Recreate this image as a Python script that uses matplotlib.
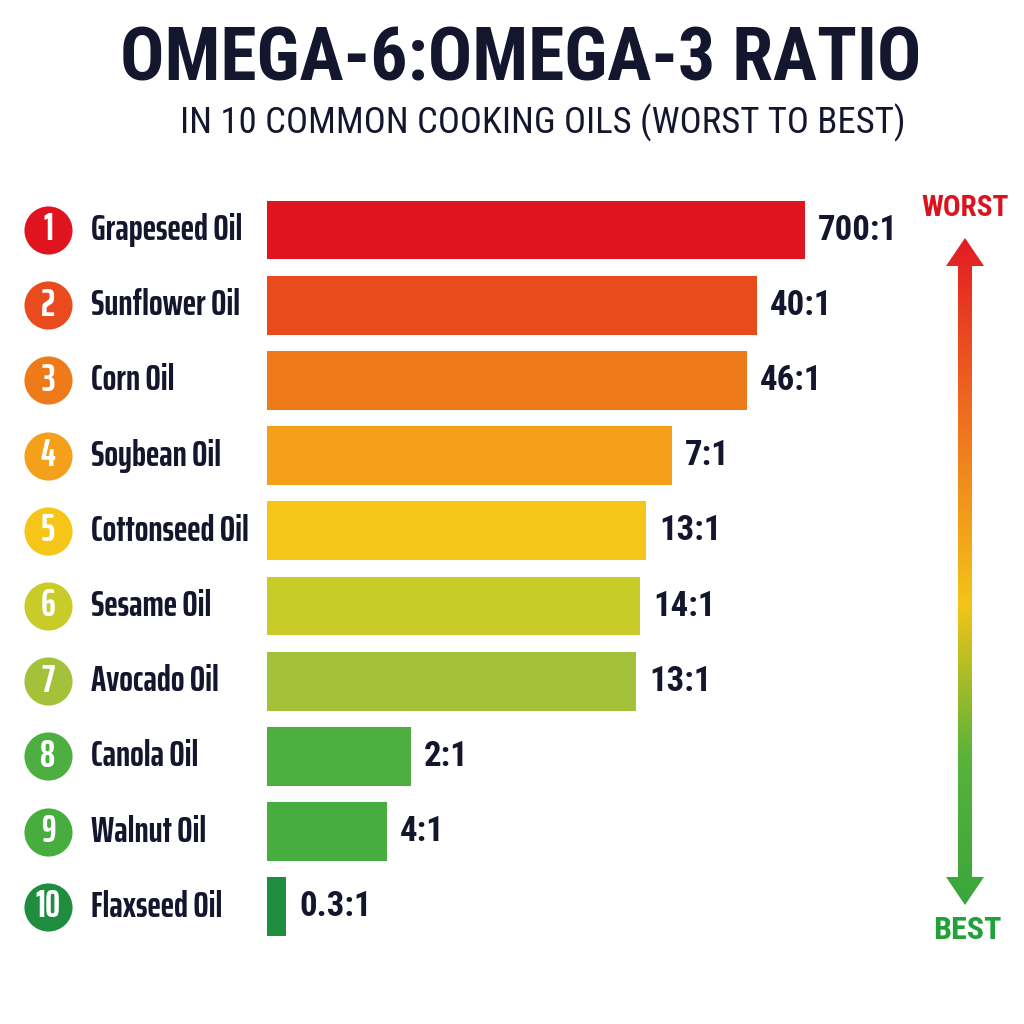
import matplotlib
matplotlib.use("Agg")
import matplotlib.pyplot as plt
import numpy as np
from matplotlib.colors import LinearSegmentedColormap
from matplotlib.patches import Polygon

# datos
aceites = ['Grapeseed Oil', 'Sunflower Oil', 'Corn Oil', 'Soybean Oil', 'Cottonseed Oil',
           'Sesame Oil', 'Avocado Oil', 'Canola Oil', 'Walnut Oil', 'Flaxseed Oil']
ratios = ['700:1', '40:1', '46:1', '7:1', '13:1', '14:1', '13:1', '2:1', '4:1', '0.3:1']
# largo de barra tal como se ve en el grafico (no es proporcional al ratio)
largos = [538, 490, 480, 405, 379, 373, 369, 144, 120, 19]
colores = ['#E0141E', '#E94B1C', '#EE7A1A', '#F5A01A', '#F5C518',
           '#C9CC28', '#A3C23A', '#4CAF3F', '#46AD3E', '#1E8E3E']

NAVY = '#14162E'
FAM = ['Roboto Condensed', 'DejaVu Sans']
ANGOSTA = ['Saira ExtraCondensed', 'Roboto Condensed', 'DejaVu Sans']

fig = plt.figure(figsize=(10.24, 10.24), dpi=100)
fig.patch.set_facecolor('white')

ax = fig.add_axes([0, 0, 1, 1])
ax.set_xlim(-267, 757)
paso = 75.2
ax.set_ylim((1024 - 230) / paso, -230 / paso)
ax.axis('off')

y = np.arange(len(aceites))
ax.barh(y, largos, height=0.78, color=colores, left=0)

for i in range(len(aceites)):
    ax.scatter(-219, y[i], s=1200, color=colores[i], zorder=3, linewidths=0)
    ax.text(-219, y[i], str(i + 1), color='white', fontsize=27, fontweight='bold',
            ha='center', va='center', family=ANGOSTA, zorder=4)
    ax.text(-176, y[i], aceites[i], color=NAVY, fontsize=26, fontweight='bold',
            ha='left', va='center', family=ANGOSTA)
    ax.text(largos[i] + 13, y[i], ratios[i], color=NAVY, fontsize=25, fontweight='bold',
            ha='left', va='center', family=FAM)

# titulos
fig.text(0.508, 0.941, 'OMEGA-6:OMEGA-3 RATIO', color=NAVY, fontsize=53,
         fontweight='heavy', ha='center', va='center', family=FAM)
fig.text(0.530, 0.880, 'IN 10 COMMON COOKING OILS (WORST TO BEST)', color=NAVY,
         fontsize=26.5, ha='center', va='center', family=FAM)

# flecha con degradado
axf = fig.add_axes([0, 0, 1, 1], zorder=-1)
axf.set_xlim(0, 1024)
axf.set_ylim(1024, 0)
axf.axis('off')
cx, top, bot = 965, 238, 905
sw, hw, hl = 7, 19, 28
pts = [(cx, top), (cx + hw, top + hl), (cx + sw, top + hl), (cx + sw, bot - hl),
       (cx + hw, bot - hl), (cx, bot), (cx - hw, bot - hl), (cx - sw, bot - hl),
       (cx - sw, top + hl), (cx - hw, top + hl)]
cmap = LinearSegmentedColormap.from_list('wb', [(0, '#E31B23'), (0.25, '#EE6A1F'),
                                                (0.55, '#F4C418'), (0.78, '#58B33A'),
                                                (1, '#3AA63C')])
grad = np.linspace(0, 1, 256).reshape(-1, 1)
im = axf.imshow(grad, cmap=cmap, extent=(cx - hw, cx + hw, bot, top), aspect='auto')
poly = Polygon(pts, closed=True, transform=axf.transData, facecolor='none', edgecolor='none')
axf.add_patch(poly)
im.set_clip_path(poly)
axf.text(965, 208, 'WORST', color='#D9141E', fontsize=21, fontweight='bold',
         ha='center', va='center', family=FAM)
axf.text(967, 930, 'BEST', color='#22A03A', fontsize=23, fontweight='bold',
         ha='center', va='center', family=FAM)

fig.savefig('out.png', dpi=100)
